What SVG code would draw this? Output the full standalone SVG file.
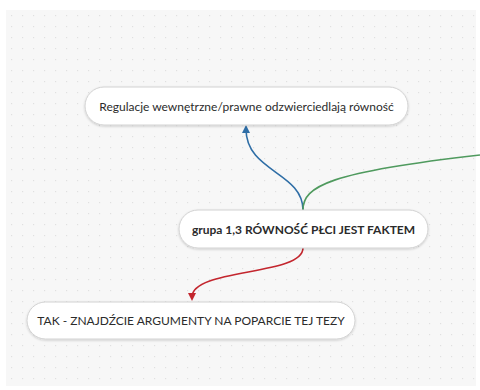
<svg xmlns="http://www.w3.org/2000/svg" width="480" height="390" viewBox="0 0 480 390">
<defs>
<pattern id="dots" x="6" y="10" width="11" height="11" patternUnits="userSpaceOnUse">
<rect x="5" y="5" width="1.2" height="1.2" fill="#e0e0e0"/>
</pattern>
<marker id="arrB" viewBox="0 0 10 10" refX="5" refY="5" markerWidth="8" markerHeight="8" orient="auto-start-reverse" markerUnits="userSpaceOnUse"><path d="M0,0 L10,5 L0,10 z" fill="#2f6ea6"/></marker>
<marker id="arrR" viewBox="0 0 10 10" refX="5" refY="5" markerWidth="8" markerHeight="8" orient="auto-start-reverse" markerUnits="userSpaceOnUse"><path d="M0,0 L10,5 L0,10 z" fill="#c3262e"/></marker>
<filter id="sh" x="-10%" y="-30%" width="120%" height="170%"><feDropShadow dx="0" dy="1" stdDeviation="1" flood-color="#000" flood-opacity="0.18"/></filter>
</defs>
<style>
.node rect{fill:#fff;stroke:#d2d2d2;stroke-width:1;filter:url(#sh)}
.node text{font-family:"Lato","Open Sans","Liberation Sans",sans-serif;font-size:12px;fill:#2b2b2b;text-anchor:middle;dominant-baseline:central}
.conn path{fill:none;stroke-width:1.6}
</style>
<rect width="480" height="390" fill="#fff"/>
<rect x="6" y="10" width="470" height="376" fill="#f7f7f7"/>
<rect x="6" y="10" width="470" height="376" fill="url(#dots)"/>
<g id="connectors" class="conn">
<path d="M303,210 C303,172 246,172 246,129" stroke="#2f6ea6" marker-end="url(#arrB)"/>
<path d="M303,210 C303,186 330,172 480,155" stroke="#4f9a5e"/>
<path d="M303,248 C303,276 192,268 192,297" stroke="#c3262e" marker-end="url(#arrR)"/>
</g>
<g id="node-top" class="node">
<rect x="85" y="87" width="323" height="38" rx="19"/>
<text x="246.5" y="106">Regulacje wewnętrzne/prawne odzwierciedlają równość</text>
</g>
<g id="node-center" class="node">
<rect x="179" y="210" width="249" height="38" rx="19"/>
<text x="303.5" y="229" font-weight="bold">grupa 1,3 RÓWNOŚĆ PŁCI JEST FAKTEM</text>
</g>
<g id="node-bottom" class="node">
<rect x="27" y="302" width="328" height="37" rx="18.5"/>
<text x="191" y="320.5">TAK - ZNAJDŹCIE ARGUMENTY NA POPARCIE TEJ TEZY</text>
</g>
</svg>
